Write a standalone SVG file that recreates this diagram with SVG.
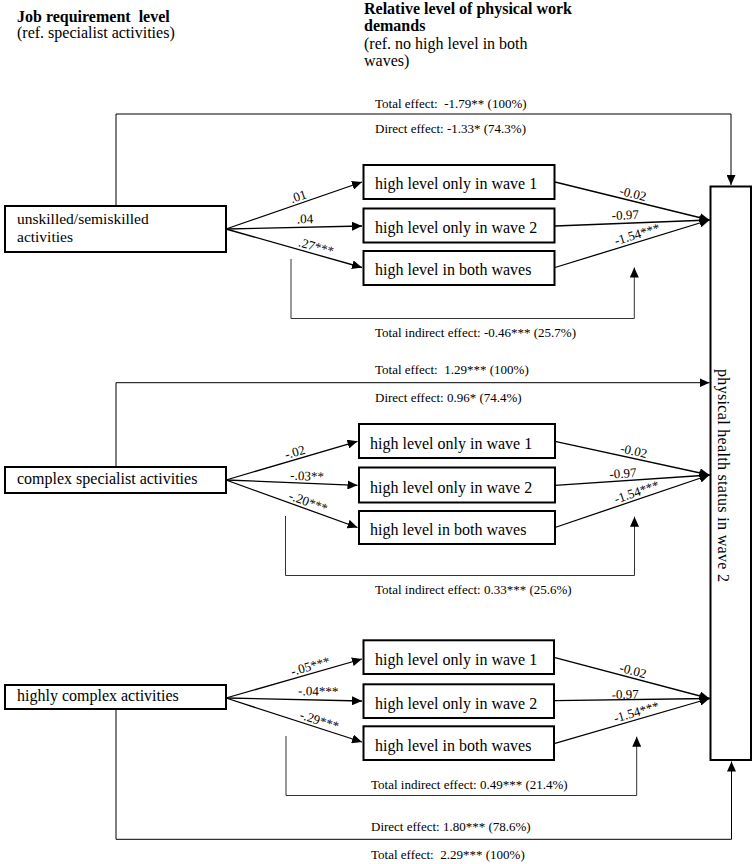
<svg xmlns="http://www.w3.org/2000/svg" width="756" height="864" viewBox="0 0 756 864">
<style>
text{font-family:"Liberation Serif","Times New Roman",serif;fill:#000;white-space:pre}
.h{font-size:16px;font-weight:bold}
.hn{font-size:16px}
.n{font-size:16px}
.n2{font-size:15.5px}
.l{font-size:13px}
.box{fill:#fff;stroke:#000;stroke-width:2}
.e{fill:none;stroke:#000;stroke-width:1.3}
.lp{fill:none;stroke:#000;stroke-width:1}
.br{fill:none;stroke:#333;stroke-width:1}
</style>
<defs>
<marker id="ar" markerUnits="userSpaceOnUse" markerWidth="11" markerHeight="9" refX="10" refY="4.5" orient="auto">
<path d="M0,0 L10,4.5 L0,9 z" fill="#000"/>
</marker>
</defs>
<rect width="756" height="864" fill="#fff"/>

<g id="headers">
<text class="h" x="17" y="22" xml:space="preserve">Job requirement  level</text>
<text class="hn" x="17" y="38">(ref. specialist activities)</text>
<text class="h" x="364" y="14">Relative level of physical work</text>
<text class="h" x="364" y="31">demands</text>
<text class="hn" x="364" y="48.5">(ref. no high level in both</text>
<text class="hn" x="364" y="66">waves)</text>
</g>

<g id="connectors">
<!-- block 1 -->
<path class="lp" d="M116,205 V114 H731 V185" marker-end="url(#ar)"/>
<path class="e" d="M226,229 L362,182" marker-end="url(#ar)"/>
<path class="e" d="M226,229 L362,226" marker-end="url(#ar)"/>
<path class="e" d="M226,229 L362,267.5" marker-end="url(#ar)"/>
<path class="e" d="M555,182 L709.5,220" marker-end="url(#ar)"/>
<path class="e" d="M555,226 L709.5,220" marker-end="url(#ar)"/>
<path class="e" d="M555,267.5 L709.5,220" marker-end="url(#ar)"/>
<path class="br" d="M291,259 V318.5 H634.3 V267.5" marker-end="url(#ar)"/>
<!-- block 2 -->
<path class="lp" d="M116,466 V382.7 H709.5" marker-end="url(#ar)"/>
<path class="e" d="M226,480 L357.5,441.3" marker-end="url(#ar)"/>
<path class="e" d="M226,480 L357.5,485.3" marker-end="url(#ar)"/>
<path class="e" d="M226,480 L357.5,527.5" marker-end="url(#ar)"/>
<path class="e" d="M555,441.3 L709.5,475" marker-end="url(#ar)"/>
<path class="e" d="M555,485.3 L709.5,475" marker-end="url(#ar)"/>
<path class="e" d="M555,527.5 L709.5,475" marker-end="url(#ar)"/>
<path class="br" d="M285.5,516 V575.5 H634.5 V516.7" marker-end="url(#ar)"/>
<!-- block 3 -->
<path class="lp" d="M116,709 V839.3 H731.5 V761.5" marker-end="url(#ar)"/>
<path class="e" d="M226,698 L362,659" marker-end="url(#ar)"/>
<path class="e" d="M226,698 L362,701" marker-end="url(#ar)"/>
<path class="e" d="M226,698 L362,742" marker-end="url(#ar)"/>
<path class="e" d="M555,657.7 L709.5,698.5" marker-end="url(#ar)"/>
<path class="e" d="M555,700.7 L709.5,698.5" marker-end="url(#ar)"/>
<path class="e" d="M555,743.3 L709.5,698.5" marker-end="url(#ar)"/>
<path class="br" d="M286,736 V795.5 H636.7 V736.7" marker-end="url(#ar)"/>
</g>

<g id="labels">
<!-- block 1 -->
<text class="l" x="375" y="108" xml:space="preserve">Total effect:  -1.79** (100%)</text>
<text class="l" x="375" y="133">Direct effect: -1.33* (74.3%)</text>
<text class="l" x="375" y="337">Total indirect effect: -0.46*** (25.7%)</text>
<text class="l" transform="translate(293,206) rotate(-18.9)" y="-3">.01</text>
<text class="l" transform="translate(297,227.4) rotate(-1.3)" y="-4">.04</text>
<text class="l" transform="translate(297,249) rotate(15.7)" y="-3">.27***</text>
<text class="l" transform="translate(618,197.5) rotate(13.9)" y="-3">-0.02</text>
<text class="l" transform="translate(612,223.8) rotate(-2.2)" y="-4">-0.97</text>
<text class="l" transform="translate(617,248.1) rotate(-17)" y="-3">-1.54***</text>
<!-- block 2 -->
<text class="l" x="375" y="374" xml:space="preserve">Total effect:  1.29*** (100%)</text>
<text class="l" x="375" y="402">Direct effect: 0.96* (74.4%)</text>
<text class="l" x="375" y="594">Total indirect effect: 0.33*** (25.6%)</text>
<text class="l" transform="translate(287,462) rotate(-16.3)" y="-3">-.02</text>
<text class="l" transform="translate(290,482.6) rotate(2.3)" y="-3">-.03**</text>
<text class="l" transform="translate(287,502.1) rotate(19.8)" y="-3">-.20***</text>
<text class="l" transform="translate(619,455.3) rotate(12.3)" y="-3">-0.02</text>
<text class="l" transform="translate(610,481.6) rotate(-3.8)" y="-3">-0.97</text>
<text class="l" transform="translate(617,506.4) rotate(-18.8)" y="-3">-1.54***</text>
<!-- block 3 -->
<text class="l" x="371" y="789">Total indirect effect: 0.49*** (21.4%)</text>
<text class="l" x="371" y="831">Direct effect: 1.80*** (78.6%)</text>
<text class="l" x="371" y="859" xml:space="preserve">Total effect:  2.29*** (100%)</text>
<text class="l" transform="translate(293,678.8) rotate(-16)" y="-3">-.05***</text>
<text class="l" transform="translate(298,699.6) rotate(1.3)" y="-4.5">-.04***</text>
<text class="l" transform="translate(298,721.3) rotate(17.9)" y="-3">-.29***</text>
<text class="l" transform="translate(618,674.3) rotate(14.8)" y="-3">-0.02</text>
<text class="l" transform="translate(611.7,699.9) rotate(-0.8)" y="-1">-0.97</text>
<text class="l" transform="translate(616,725.6) rotate(-16.2)" y="-3">-1.54***</text>
</g>

<g id="src1"><rect class="box" x="5" y="206" width="221" height="46"/>
<text class="n2" x="17" y="224">unskilled/semiskilled</text>
<text class="n2" x="17" y="241.5">activities</text></g>
<g id="b1w1"><rect class="box" x="363.5" y="165" width="191" height="34"/><text class="n" x="375" y="189">high level only in wave 1</text></g>
<g id="b1w2"><rect class="box" x="363.5" y="208.5" width="191" height="34"/><text class="n" x="375" y="233">high level only in wave 2</text></g>
<g id="b1both"><rect class="box" x="363.5" y="251" width="191" height="34"/><text class="n" x="375" y="275">high level in both waves</text></g>

<g id="src2"><rect class="box" x="5" y="467" width="221" height="26"/>
<text class="n" x="17" y="483.5">complex specialist activities</text></g>
<g id="b2w1"><rect class="box" x="359" y="424" width="196" height="34"/><text class="n" x="370" y="449">high level only in wave 1</text></g>
<g id="b2w2"><rect class="box" x="359" y="467.5" width="196" height="35"/><text class="n" x="370" y="493">high level only in wave 2</text></g>
<g id="b2both"><rect class="box" x="359" y="511" width="196" height="33"/><text class="n" x="370" y="535">high level in both waves</text></g>

<g id="src3"><rect class="box" x="5" y="685" width="221" height="24"/>
<text class="n" x="17" y="701">highly complex activities</text></g>
<g id="b3w1"><rect class="box" x="363.5" y="640.3" width="190.5" height="33.7"/><text class="n" x="375" y="665">high level only in wave 1</text></g>
<g id="b3w2"><rect class="box" x="363.5" y="684.3" width="190.5" height="33.7"/><text class="n" x="375" y="709">high level only in wave 2</text></g>
<g id="b3both"><rect class="box" x="363.5" y="726.3" width="190.5" height="33.7"/><text class="n" x="375" y="751">high level in both waves</text></g>

<g id="outcome"><rect class="box" x="710.5" y="186.5" width="40.5" height="573.5"/>
<text class="n" transform="translate(718,475.5) rotate(90)" text-anchor="middle" textLength="213" lengthAdjust="spacing">physical health status in wave 2</text></g>
</svg>
